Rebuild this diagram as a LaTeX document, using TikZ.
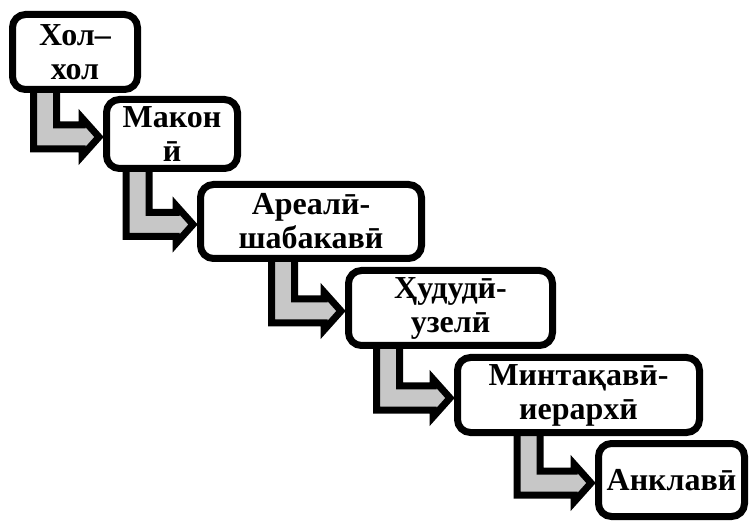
\documentclass[tikz,border=0pt]{standalone}
\usepackage{fontspec}
\setmainfont{Liberation Serif}
\usetikzlibrary{calc,shadows,backgrounds}

\begin{document}
\begin{tikzpicture}[x=1pt,y=-1pt,
	stage/.style={draw=black, fill=white, line width=7pt, rounded corners=13pt, align=center, inner sep=0pt,
		font=\fontsize{32}{34}\selectfont\bfseries, drop shadow={shadow xshift=2pt, shadow yshift=-2pt, opacity=0.25}},
	flow/.style={draw=black, fill=black!22, line width=7pt, line join=miter, drop shadow={shadow xshift=2pt, shadow yshift=-2pt, opacity=0.2}}]
		\useasboundingbox (0,0) rectangle (750,521);
		\node[stage, minimum width=125pt, minimum height=75pt] (h1) at (75,52) {Хол–\\хол};
		\node[stage, minimum width=131pt, minimum height=69pt] (h2) at (172,134) {Макон\\ӣ};
		\node[stage, minimum width=221pt, minimum height=74pt] (h3) at (311,221.5) {Ареалӣ-\\шабакавӣ};
		\node[stage, minimum width=204pt, minimum height=75pt] (h4) at (450.5,308) {Ҳудудӣ-\\узелӣ};
		\node[stage, minimum width=242pt, minimum height=75pt] (h5) at (578.5,395) {Минтақавӣ-\\иерархӣ};
		\node[stage, minimum width=146pt, minimum height=73pt] (h6) at (671.5,480) {Анклавӣ};

		\begin{scope}[on background layer]
		\draw[flow] ($(h1.south west)+(24.5,-6)$) |- ($(h2.west)+(-21,15)$) -- ++(0,7) -- ($(h2.west)+(-4,3)$) -- ++(-17,-19) -- ++(0,7) -| ($(h1.south west)+(47.5,-6)$) -- cycle;
		\draw[flow] ($(h2.south west)+(23,-6)$) |- ($(h3.west)+(-21,15)$) -- ++(0,7) -- ($(h3.west)+(-4,3)$) -- ++(-17,-19) -- ++(0,7) -| ($(h2.south west)+(46,-6)$) -- cycle;
		\draw[flow] ($(h3.south west)+(74.5,-6)$) |- ($(h4.west)+(-21,15)$) -- ++(0,7) -- ($(h4.west)+(-4,3)$) -- ++(-17,-19) -- ++(0,7) -| ($(h3.south west)+(97.5,-6)$) -- cycle;
		\draw[flow] ($(h4.south west)+(31.5,-6)$) |- ($(h5.west)+(-21,15)$) -- ++(0,7) -- ($(h5.west)+(-4,3)$) -- ++(-17,-19) -- ++(0,7) -| ($(h4.south west)+(54.5,-6)$) -- cycle;
		\draw[flow] ($(h5.south west)+(63,-6)$) |- ($(h6.west)+(-21,15)$) -- ++(0,7) -- ($(h6.west)+(-4,3)$) -- ++(-17,-19) -- ++(0,7) -| ($(h5.south west)+(86,-6)$) -- cycle;
		\end{scope}

	\end{tikzpicture}
\end{document}
